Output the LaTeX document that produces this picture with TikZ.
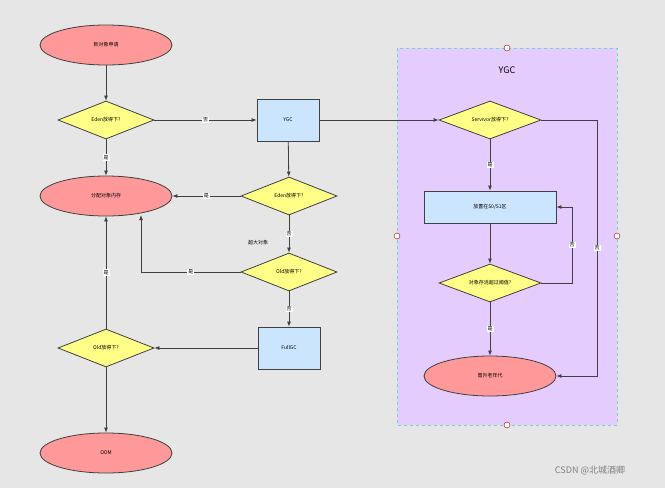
\documentclass[tikz,border=0pt]{standalone}
\usepackage{fontspec}
\setmainfont{Noto Sans CJK SC}
\usetikzlibrary{shapes.geometric,arrows.meta}
\definecolor{bg}{HTML}{E6E6E6}
\definecolor{term}{HTML}{FF9999}
\definecolor{cond}{HTML}{FFFF88}
\definecolor{proc}{HTML}{CCE5FF}
\definecolor{zone}{HTML}{E5CCFF}
\definecolor{zoneline}{HTML}{66DDBB}
\definecolor{ln}{HTML}{404040}
\tikzstyle{terminal}=[ellipse,draw=ln,thick,fill=term,minimum width=132pt,minimum height=40pt,font=\tiny]
\tikzstyle{decision}=[diamond,aspect=2.5,draw=ln,thick,fill=cond,minimum width=96pt,minimum height=38pt,inner sep=0pt,font=\tiny]
\tikzstyle{process}=[rectangle,draw=ln,thick,fill=proc,minimum width=62pt,minimum height=42pt,font=\tiny]
\tikzstyle{flow}=[draw=ln,thick,-{Latex[length=5pt,width=4pt]}]
\tikzstyle{answer}=[fill=white,inner sep=1pt,font=\tiny]
\tikzstyle{handle}=[circle,draw=red!60!black,fill=white,inner sep=0pt,minimum size=6pt]

\begin{document}
\begin{tikzpicture}[x=1pt,y=-1pt]
     % background and the YGC region
     \fill[bg] (0,0) rectangle (665,488);
     \useasboundingbox (0,0) rectangle (665,488);
     \draw[zoneline,dashed,fill=zone] (397,48) rectangle (617,425);
     \node[font=\small] (ygctitle) at (507,70) {YGC};
     \foreach \pos/\name in {{(507,48)/h1}, {(397,236)/h2}, {(617,236)/h3}, {(507,425)/h4}}
     \node[handle] (\name) at \pos {};

     % the nodes
     \foreach \pos/\name/\text in {{(106,45)/start/新对象申请}, {(106,196)/alloc/分配对象内存},
       {(106,453)/oom/OOM}, {(490,376)/promote/晋升老年代}}
     \node[terminal] (\name) at \pos {\text};
     \foreach \pos/\name/\text in {{(106,120)/eden/Eden放得下?}, {(289,196)/edenb/Eden放得下?},
       {(289,272)/old/Old放得下?}, {(106,348)/oldb/Old放得下?}}
     \node[decision] (\name) at \pos {\text};
     \node[decision,minimum width=102pt] (surv) at (490,120) {Servivor放得下?};
     \node[decision,minimum width=102pt] (age) at (490,283) {对象存活超过阈值?};
     \node[process] (ygc) at (288,120) {YGC};
     \node[process] (fullgc) at (289,348) {FullGC};
     \node[process,minimum width=132pt,minimum height=32pt] (s01) at (490,207) {放置在S0/S1区};
     \node[font=\tiny] (huge) at (258,243) {超大对象};
     \node[font=\small,text=gray] (mark) at (590,470) {CSDN @北城酒卿};
     \coordinate (allocin) at (141,215);

     % connect them
     \path[flow] (start) -- (eden);
     \path[flow] (eden) -- node[answer] {是} (alloc);
     \path[flow] (eden) -- node[answer] {否} (ygc);
     \path[flow] (ygc) -- (edenb);
     \path[flow] (ygc) -- (surv);
     \path[flow] (edenb) -- node[answer] {是} (alloc);
     \path[flow] (edenb) -- node[answer] {否} (old);
     \path[flow] (old.west) -- node[answer] {是} (141,272) -- (allocin);
     \path[flow] (old) -- node[answer] {否} (fullgc);
     \path[flow] (fullgc) -- (oldb);
     \path[flow] (oldb) -- node[answer] {是} (alloc);
     \path[flow] (oldb) -- (oom);
     \path[flow] (surv) -- node[answer] {是} (s01);
     \path[flow] (surv.east) -- (597,120) -- node[answer] {否} (597,376) -- (promote.east);
     \path[flow] (s01) -- (age);
     \path[flow] (age.east) -- (572,283) -- node[answer] {否} (572,207) -- (s01.east);
     \path[flow] (age) -- node[answer] {是} (promote);
\end{tikzpicture}
\end{document}
